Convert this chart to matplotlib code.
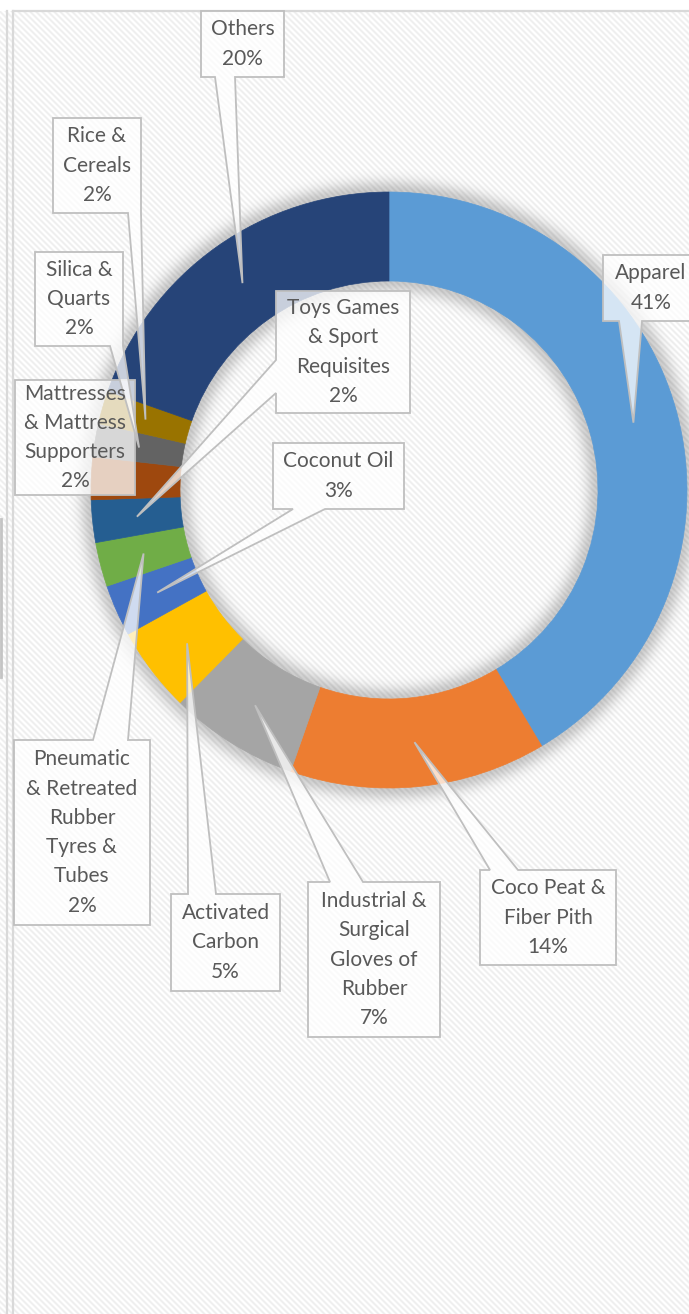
import matplotlib.pyplot as plt
import numpy as np
from matplotlib.patches import Polygon

W, H = 689, 1314

# data (share of exports, %)
categories = ['Apparel', 'Coco Peat &\nFiber Pith', 'Industrial &\nSurgical\nGloves of\nRubber',
              'Activated\nCarbon', 'Coconut Oil', 'Pneumatic\n& Retreated\nRubber\nTyres &\nTubes',
              'Toys Games\n& Sport\nRequisites', 'Mattresses\n& Mattress\nSupporters',
              'Silica &\nQuarts', 'Rice &\nCereals', 'Others']
values = [41.4, 13.9, 7.0, 4.6, 2.8, 2.4, 2.3, 2.3, 1.8, 1.8, 19.6]
colors = ['#5B9BD5', '#ED7D31', '#A5A5A5', '#FFC000', '#4472C4', '#70AD47',
          '#255E91', '#9E480E', '#636363', '#997300', '#264478']

# label callout boxes in picture pixels: x0, y0, x1, y1, side of pointer, pointer base
boxes = [(603, 255, 699, 321, 'bottom', (619, 642)),
         (480, 870, 616, 965, 'top', (490, 518)),
         (308, 882, 440, 1037, 'top', (330, 363)),
         (171, 894, 280, 991, 'top', (188, 216)),
         (273, 443, 404, 509, 'bottom', (293, 325)),
         (14, 740, 150, 925, 'top', (93, 128)),
         (276, 291, 410, 413, 'left', (360, 393)),
         (15, 380, 135, 495, None, None),
         (35, 252, 123, 346, 'bottom', (110, 123)),
         (53, 118, 141, 213, 'bottom', (128, 141)),
         (201, 11, 284, 77, 'bottom', (215, 235))]

cx, cy = 389, 490
R_out, R_in = 298, 209

fig = plt.figure(figsize=(W / 100, H / 100), dpi=100)
ax = fig.add_axes([0, 0, 1, 1])

# striped background
yy, xx = np.mgrid[0:H, 0:W]
pat = np.array([0.94, 0.94, 0.97, 1.0, 1.0, 0.975])
bg = pat[(xx - yy) % 6]
bg[yy < 11] = 1.0
ax.imshow(np.dstack([bg, bg, bg]), extent=(0, W, 0, H), origin='upper',
          interpolation='nearest', zorder=0)

# soft glow around the ring
r = np.hypot(xx + 0.5 - cx, yy + 0.5 - cy)
d = np.maximum(np.maximum(r - R_out, R_in - r), 0)
glow = 0.2 * np.exp(-(d / 12.0) ** 2)
ax.imshow(np.dstack([np.zeros_like(glow)] * 3 + [glow]), extent=(0, W, 0, H),
          origin='upper', interpolation='nearest', zorder=1)

wedges, _ = ax.pie(values, colors=colors, startangle=90, counterclock=False,
                   radius=R_out, center=(cx, H - cy), frame=True,
                   wedgeprops=dict(width=R_out - R_in, linewidth=0.5))
for w, c in zip(wedges, colors):
    w.set_edgecolor(c)
    w.set_zorder(2)

# borders of chart area
bc = '#D9D9D9'
ax.plot([13, 13], [H - 11, 0], color=bc, lw=1.6, zorder=3)
ax.plot([13, W], [H - 11, H - 11], color=bc, lw=1.6, zorder=3)
ax.plot([7, 7], [H - 11, 0], color=bc, lw=1.6, zorder=3)
ax.plot([1, 1], [H - 519, H - 677], color='#C4C4C4', lw=2, zorder=3)

total = sum(values)
cum = 0.0
for name, v, box in zip(categories, values, boxes):
    mid = (cum + v / 2) / total * 360
    cum += v
    rm = (R_out + R_in) / 2
    tx = cx + rm * np.sin(np.radians(mid))
    ty = cy - rm * np.cos(np.radians(mid))
    x0, y0, x1, y1, side, base = box
    pts = [(x0, y0)]
    if side == 'top':
        pts += [(base[0], y0), (tx, ty), (base[1], y0)]
    pts += [(x1, y0), (x1, y1)]
    if side == 'bottom':
        pts += [(base[1], y1), (tx, ty), (base[0], y1)]
    pts += [(x0, y1)]
    if side == 'left':
        pts += [(x0, base[1]), (tx, ty), (x0, base[0])]
    poly = Polygon([(px, H - py) for px, py in pts], closed=True,
                   facecolor=(1, 1, 1, 0.75), edgecolor='#BFBFBF', lw=1.3, zorder=4)
    ax.add_patch(poly)
    ax.text((x0 + x1) / 2, H - (y0 + y1) / 2, '%s\n%.0f%%' % (name, v / total * 100),
            ha='center', va='center', ma='center', fontsize=15, family='Lato',
            color='#595959', linespacing=1.58, zorder=5)

ax.set_xlim(0, W)
ax.set_ylim(0, H)
ax.set_aspect('auto')
ax.axis('off')
fig.savefig('out.png', dpi=100)
